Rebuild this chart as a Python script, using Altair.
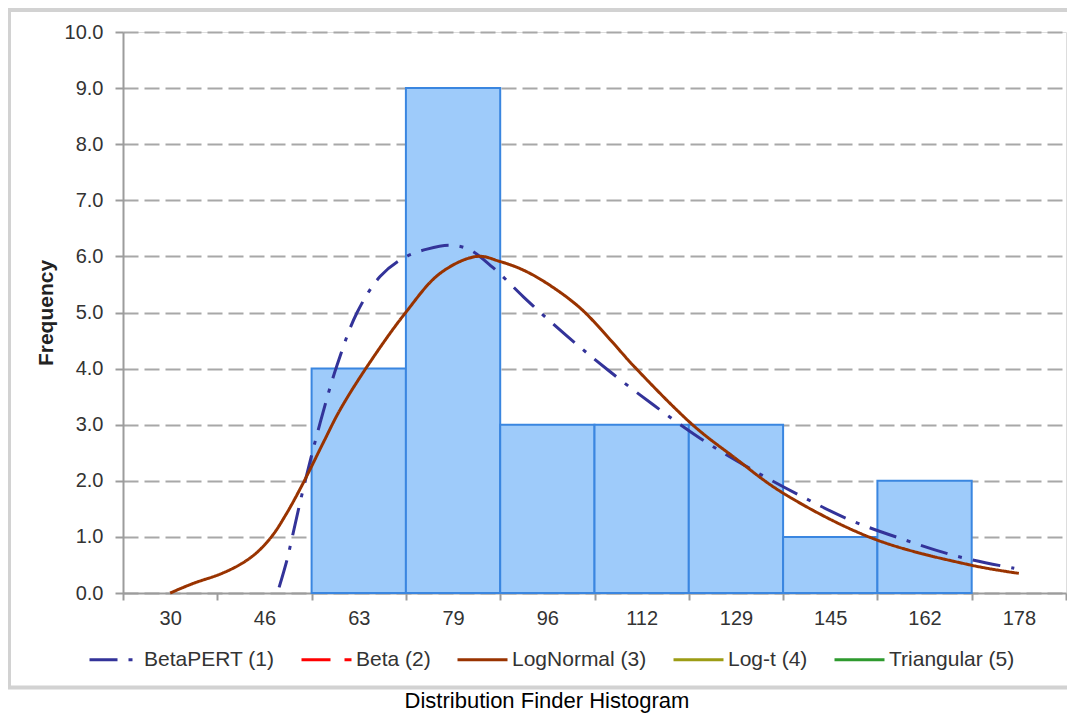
import json
import altair as alt
import pandas as pd

# ---------------- data ----------------
tick_labels = ["30", "46", "63", "79", "96", "112", "129", "145", "162", "178"]
x_first, x_last = 30, 178

bin_labels = ["63", "79", "96", "112", "129", "145", "162"]
frequency = [4, 9, 3, 3, 3, 1, 2]

series_names = ["BetaPERT (1)", "Beta (2)", "LogNormal (3)", "Log-t (4)", "Triangular (5)"]
series_colors = ["#333399", "#FF0000", "#993300", "#9C9C14", "#2E9A2E"]
series_dash = [[28, 11, 4, 11], [29, 14], [1, 0], [1, 0], [1, 0]]

pert_x = [49.0, 50.4, 51.3, 53.2, 56.2, 59.1, 62.6, 66.6, 70.7, 74.8, 78.7, 82.0,
          86.2, 91.6, 95.1, 100.8, 106.4, 114.3, 122.4, 130.6, 139.6, 148.6,
          158.3, 167.4, 177.2]
pert_y = [0.10, 0.60, 1.00, 1.85, 3.05, 4.06, 5.00, 5.64, 5.97, 6.13, 6.20, 6.13,
          5.81, 5.28, 4.95, 4.44, 3.97, 3.35, 2.76, 2.25, 1.75, 1.30,
          0.94, 0.65, 0.44]

logn_x = [30.0, 34.0, 38.8, 42.4, 45.1, 47.8, 50.2, 53.2, 56.8, 59.6, 64.3, 71.0,
          77.1, 83.5, 87.5, 91.5, 95.7, 101.5, 106.7, 110.8, 121.2, 128.2, 136.9,
          152.6, 169.5, 178.0]
logn_y = [0.00, 0.17, 0.34, 0.52, 0.72, 1.02, 1.40, 1.96, 2.70, 3.26, 4.03, 4.99,
          5.70, 6.00, 5.91, 5.76, 5.52, 5.08, 4.52, 4.05, 2.99, 2.43, 1.78,
          0.97, 0.50, 0.35]

title_text = "Distribution Finder Histogram"

# ---------------- tables ----------------
step = (x_last - x_first) / (len(tick_labels) - 1)
lo = x_first - step / 2
hi = x_last + step / 2
edges = [lo + k * step for k in range(len(tick_labels) + 1)]

idx = [tick_labels.index(b) for b in bin_labels]
bars_df = pd.DataFrame({
    "bin": bin_labels,
    "freq": frequency,
    "x0": [edges[i] for i in idx],
    "x1": [edges[i + 1] for i in idx],
})

curves_df = pd.concat([
    pd.DataFrame({"series": series_names[0], "x": pert_x, "y": pert_y}),
    pd.DataFrame({"series": series_names[2], "x": logn_x, "y": logn_y}),
], ignore_index=True)

# ---------------- layout ----------------
W, H = 943, 561
FONT = "Liberation Sans"
AX = "#9c9c9c"
TXT = "#333333"

x_scale = alt.Scale(domain=[lo, hi], nice=False, zero=False, padding=0)
y_scale = alt.Scale(domain=[0, 10], nice=False, zero=True, padding=0)

label_expr = f"{json.dumps(tick_labels)}[round((datum.value - {lo}) / {step})] || ''"

x_axis = alt.Axis(
    values=edges, labelExpr=label_expr, labelOffset=W / len(tick_labels) / 2,
    labelFlush=False, labelOverlap=False, labelBound=False,
    tickSize=7, tickColor=AX, tickWidth=2, domainColor=AX, domainWidth=2,
    labelPadding=8, labelFontSize=20, labelColor=TXT, labelFont=FONT,
    grid=False, title=None,
)
y_axis = alt.Axis(
    values=list(range(11)), format=".1f", tickSize=8, tickColor=AX, tickWidth=2,
    domainColor=AX, domainWidth=2, labelPadding=12, labelFontSize=20,
    labelColor=TXT, labelFont=FONT, grid=True, gridDash=[15, 6],
    gridColor="#a8a8a8", gridWidth=2, title="Frequency", titleFontSize=21,
    titleFontWeight="bold", titleFont=FONT, titleColor="#222222", titlePadding=8,
)

bars = alt.Chart(bars_df).mark_bar(
    fill="#9ECBFA", stroke="#3A86E0", strokeWidth=2, opacity=1
).encode(
    x=alt.X("x0:Q", scale=x_scale, axis=x_axis),
    x2="x1:Q",
    y=alt.Y("freq:Q", scale=y_scale, axis=y_axis),
    y2=alt.datum(0),
)

lines = alt.Chart(curves_df).mark_line(strokeWidth=3, interpolate="catmull-rom").encode(
    x=alt.X("x:Q", scale=x_scale, axis=x_axis),
    y=alt.Y("y:Q", scale=y_scale, axis=y_axis),
    color=alt.Color(
        "series:N",
        scale=alt.Scale(domain=series_names, range=series_colors),
        legend=alt.Legend(
            orient="none", legendX=-35, legendY=601, direction="horizontal",
            title=None, symbolType="stroke", symbolSize=2500, symbolStrokeWidth=3,
            labelFontSize=21, labelFont=FONT, labelColor=TXT, labelOffset=3,
            columnPadding=20, padding=0, labelLimit=300,
        ),
    ),
    strokeDash=alt.StrokeDash(
        "series:N", scale=alt.Scale(domain=series_names, range=series_dash)
    ),
    order="x:Q",
)

frame = alt.Chart(pd.DataFrame({"k": [0]})).mark_rect(
    fill="transparent", stroke="#d2d2d2", strokeWidth=4
).encode(
    x=alt.value(-114), x2=alt.value(960), y=alt.value(-22), y2=alt.value(655.5)
)

title = alt.Chart(pd.DataFrame({"t": [title_text]})).mark_text(
    fontSize=22, font=FONT, color="#000000", align="center", baseline="alphabetic"
).encode(text="t:N", x=alt.value(424), y=alt.value(676))

chart = alt.layer(bars, lines, frame, title).properties(
    width=W, height=H,
    autosize=alt.AutoSizeParams(type="none"),
    padding={"left": 115, "top": 24, "right": 1, "bottom": 120},
).configure_view(strokeWidth=0).configure(font=FONT)

chart.save("out.html", embed_options={"renderer": "svg", "actions": False})
